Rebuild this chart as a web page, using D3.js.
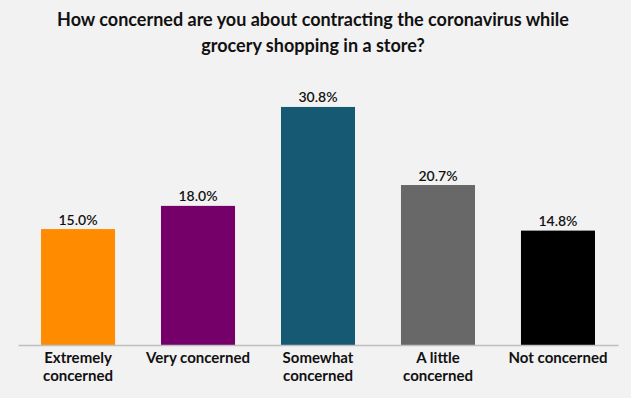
<!DOCTYPE html>
<html>
<head>
<meta charset="utf-8">
<script src="https://cdn.jsdelivr.net/npm/d3@7"></script>
<style>
  html, body { margin: 0; padding: 0; background: #f2f2f2; }
  svg { display: block; font-family: Lato, "Open Sans", sans-serif; }
</style>
</head>
<body>
<div id="canvas"></div>
<script>
"use strict"

/* Data */
let titleLines = [
  "How concerned are you about contracting the coronavirus while",
  "grocery shopping in a store?"
];
let categories = ["Extremely concerned", "Very concerned", "Somewhat concerned", "A little concerned", "Not concerned"];
let shares = [15.0, 18.0, 30.8, 20.7, 14.8];
let barColors = ["#ff8c00", "#76006a", "#155a72", "#686868", "#000000"];

/* Drawing config */
let svgWidth = 631;
let svgHeight = 398;
let baseY = 345;

let svg = d3.select("#canvas")
  .append("svg")
  .attr("width", svgWidth)
  .attr("height", svgHeight);

svg.append("rect")
  .attr("width", svgWidth)
  .attr("height", svgHeight)
  .attr("fill", "#f2f2f2");

/* Title */
svg.append("g")
  .selectAll("text")
  .data(titleLines)
  .join("text")
  .attr("x", 313)
  .attr("y", (d, i) => 26 + i * 26)
  .attr("text-anchor", "middle")
  .attr("font-size", 18)
  .attr("font-weight", 700)
  .attr("fill", "#111")
  .text(d => d);

/* Scales */
let xScale = d3.scaleBand()
  .domain(categories)
  .range([18, 618])
  .paddingInner(0.383)
  .paddingOuter(0.1917);

let yScale = d3.scaleLinear()
  .domain([0, 35])
  .range([baseY, 74.5]);

let data = categories.map((c, i) => ({ cat: c, val: shares[i], color: barColors[i] }));

/* Bars */
svg.selectAll("rect.bar")
  .data(data)
  .join("rect")
  .attr("class", "bar")
  .attr("x", d => xScale(d.cat))
  .attr("y", d => yScale(d.val))
  .attr("width", xScale.bandwidth())
  .attr("height", d => yScale(0) - yScale(d.val))
  .attr("fill", d => d.color);

/* Value labels */
svg.selectAll("text.val")
  .data(data)
  .join("text")
  .attr("class", "val")
  .attr("x", d => xScale(d.cat) + xScale.bandwidth() / 2)
  .attr("y", d => yScale(d.val) - 4.5)
  .attr("text-anchor", "middle")
  .attr("font-size", 14)
  .attr("font-weight", 600)
  .attr("fill", "#111")
  .text(d => d.val.toFixed(1) + "%");

/* Axis line */
let xAxis = svg.append("g")
  .attr("transform", `translate(0,${baseY})`)
  .call(d3.axisBottom(xScale).tickSize(0).tickPadding(18));

xAxis.select(".domain").attr("stroke", "#bfbfbf").attr("stroke-width", 1.3);

xAxis.selectAll(".tick text")
  .attr("font-family", "Lato, sans-serif")
  .attr("font-size", 15)
  .attr("font-weight", 700)
  .attr("fill", "#111")
  .attr("dy", 0)
  .each(function (d) {
    let text = d3.select(this);
    let words = d.split(" ");
    text.text(null);
    let line = [];
    let lineNo = 0;
    let tspan = text.append("tspan").attr("x", 0).attr("y", 18);
    words.forEach(w => {
      line.push(w);
      tspan.text(line.join(" "));
      if (tspan.node().getComputedTextLength() > 112 && line.length > 1) {
        line.pop();
        tspan.text(line.join(" "));
        line = [w];
        lineNo += 1;
        tspan = text.append("tspan").attr("x", 0).attr("y", 18 + lineNo * 18).text(w);
      }
    });
  });
</script>
</body>
</html>
